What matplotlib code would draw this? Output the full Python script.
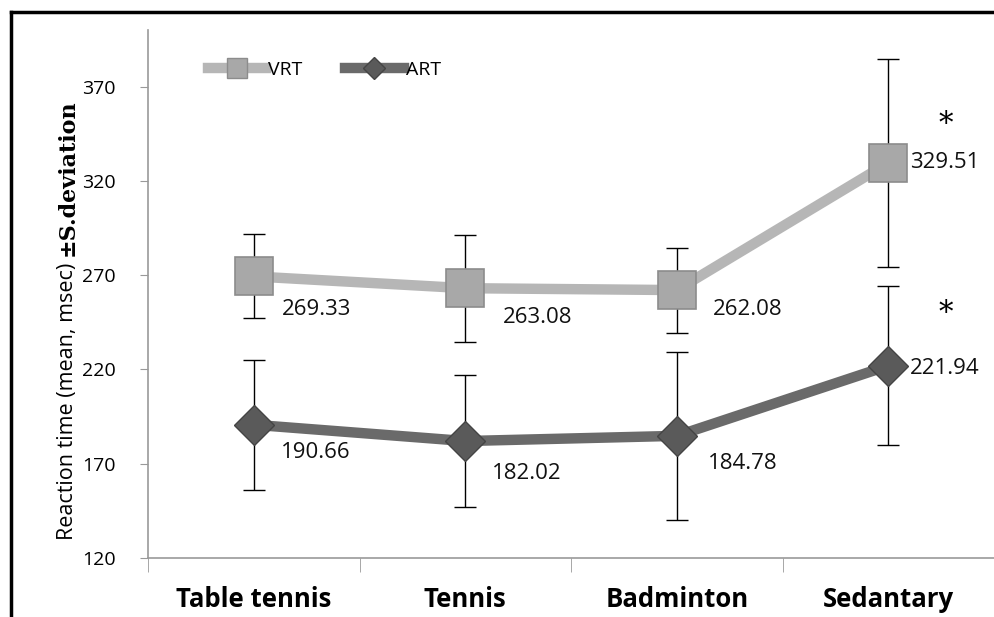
import numpy as np
import matplotlib.pyplot as plt
from matplotlib.lines import Line2D

groups = ['Table tennis', 'Tennis', 'Badminton', 'Sedantary']
vrt = [269.33, 263.08, 262.08, 329.51]
art = [190.66, 182.02, 184.78, 221.94]
vrt_sd = [22.3, 28.3, 22.5, 55.1]
art_sd = [34.5, 34.8, 44.5, 42.1]
yticks = [120, 170, 220, 270, 320, 370]
star_y = [350, 250]

W, H = 994, 617
fig = plt.figure(figsize=(W / 100, H / 100), dpi=100)
ax = fig.add_axes([148 / W, (H - 558) / H, 1 - 148 / W, (558 - 30) / H])

x = np.arange(len(groups))
vcol = '#b6b6b6'
acol = '#6a6a6a'

ax.errorbar(x, vrt, yerr=vrt_sd, fmt='none', ecolor='black', elinewidth=1.0,
            capsize=8, capthick=1.0, zorder=2)
ax.errorbar(x, art, yerr=art_sd, fmt='none', ecolor='black', elinewidth=1.0,
            capsize=8, capthick=1.0, zorder=2)
ax.plot(x, vrt, color=vcol, lw=7.5, solid_capstyle='round', zorder=3)
ax.plot(x, art, color=acol, lw=7.5, solid_capstyle='round', zorder=3)
ax.plot(x, vrt, ls='none', marker='s', ms=27, mfc='#a8a8a8', mec='#8c8c8c',
        mew=1.2, zorder=4)
ax.plot(x, art, ls='none', marker='D', ms=20, mfc='#5a5a5a', mec='#444444',
        mew=1.0, zorder=4)

# data labels, offsets in pixels (right, down)
lab_font = dict(fontsize=16, family='Open Sans', color='#111111')
voff = [(28, 33), (38, 29), (36, 19), (22, 0)]
aoff = [(27, 28), (27, 32), (31, 28), (22, 3)]
for i in range(len(groups)):
    ax.annotate(f'{vrt[i]:.2f}', (x[i], vrt[i]), xytext=(voff[i][0] * 0.72, -voff[i][1] * 0.72),
                textcoords='offset points', ha='left', va='center', zorder=5, **lab_font)
    ax.annotate(f'{art[i]:.2f}', (x[i], art[i]), xytext=(aoff[i][0] * 0.72, -aoff[i][1] * 0.72),
                textcoords='offset points', ha='left', va='center', zorder=5, **lab_font)

# significance stars
for sy in star_y:
    ax.text(3.27, sy, '*', fontsize=21, family='DejaVu Serif',
            ha='center', va='center')

ax.set_xlim(-0.5, 3.45)
ax.set_ylim(120, 400)
ax.set_yticks(yticks)
ax.set_yticklabels([str(t) for t in yticks], fontsize=14, family='Open Sans')
ax.tick_params(axis='y', length=6, color='#999999', pad=17)
ax.set_xticks(x)
ax.set_xticklabels(groups, fontsize=18.5, fontweight='bold', family='Open Sans')
ax.tick_params(axis='x', length=0, pad=20)
ax.set_xticks(np.arange(-0.5, 4, 1), minor=True)
ax.tick_params(axis='x', which='minor', length=10, color='#999999')

for s in ['top', 'right']:
    ax.spines[s].set_visible(False)
for s in ['left', 'bottom']:
    ax.spines[s].set_color('#999999')
    ax.spines[s].set_linewidth(1.2)

# y label: mixed fonts
fig.text(68 / W, 1 - 401 / H, 'Reaction time (mean, msec)', rotation=90, fontsize=15.5,
         family='Open Sans', ha='center', va='center')
fig.text(68 / W, 1 - 178 / H, '\u00b1S.deviation', rotation=90, fontsize=16,
         family='DejaVu Serif', fontweight='bold', ha='center', va='center')

# legend
handles = [Line2D([], [], color=vcol, lw=7.5, marker='s', ms=14, mfc='#a8a8a8', mec='#8c8c8c'),
           Line2D([], [], color=acol, lw=7.5, marker='D', ms=11, mfc='#5a5a5a', mec='#444444')]
ax.legend(handles, ['VRT', 'ART'], loc='upper left', bbox_to_anchor=(0.05, 0.975), ncol=2,
          frameon=False, handlelength=3.0, handletextpad=0.1, columnspacing=2.2,
          prop={'family': 'Open Sans', 'size': 14})

# outer frame (left and top only visible)
fig.add_artist(Line2D([11 / W, 11 / W], [0, 1 - 12 / H], color='black', lw=2.5))
fig.add_artist(Line2D([11 / W, 1], [1 - 12 / H, 1 - 12 / H], color='black', lw=2.5))

fig.savefig('out.png', dpi=100)
